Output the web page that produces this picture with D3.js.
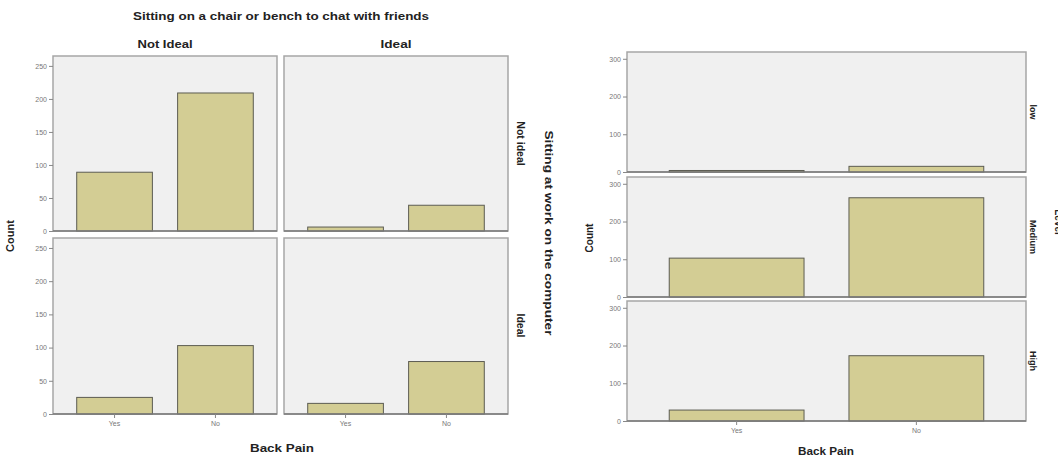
<!DOCTYPE html>
<html>
<head>
<meta charset="utf-8">
<script src="https://cdn.jsdelivr.net/npm/d3@7"></script>
<style>
	body { margin: 0; background: #fff; }
	svg { display: block; font-family: "Liberation Sans", Arial, sans-serif; }
	.tick text { fill: #777; font-size: 7px; }
	.tick line { stroke: #888; }
	.domain { display: none; }
	.lbl { font-weight: bold; fill: #222; }
</style>
</head>
<body>
<script>
// left chart: back pain counts by chat-seat (columns) and work-seat (rows)
const backPain = ['Yes', 'No']
const chatLevels = ['Not Ideal', 'Ideal']
const workLevels = ['Not ideal', 'Ideal']
const workNotIdealChatNotIdeal = [89, 209]
const workNotIdealChatIdeal = [6, 39]
const workIdealChatNotIdeal = [25, 103]
const workIdealChatIdeal = [16, 79]
const leftTicks = [0, 50, 100, 150, 200, 250]

// right chart: back pain counts by level
const levels = ['low', 'Medium', 'High']
const lowCounts = [4, 15]
const mediumCounts = [103, 263]
const highCounts = [29, 173]
const rightTicks = [0, 100, 200, 300]

let svg = d3.select('body').append('svg')
	.attr('width', 1058)
	.attr('height', 458)

function panel(x0, y0, w, h, counts, ymax, ticks, showX, showY) {
	let x = d3.scaleBand().domain(backPain).range([x0, x0 + w])
		.paddingInner(0.25).paddingOuter(0.235)
	let y = d3.scaleLinear().domain([0, ymax]).range([y0 + h, y0])

	svg.append('rect')
		.attr('x', x0).attr('y', y0)
		.attr('width', w).attr('height', h)
		.attr('fill', '#f0f0f0')
		.attr('stroke', '#a6a6a6')
		.attr('stroke-width', 1.5)

	svg.append('g').selectAll('rect')
		.data(counts)
		.join('rect')
		.attr('x', (d, i) => x(backPain[i]))
		.attr('y', d => y(d))
		.attr('width', x.bandwidth())
		.attr('height', d => y(0) - y(d))
		.attr('fill', '#d3cd94')
		.attr('stroke', '#5c5c52')
		.attr('stroke-width', 1)

	// baseline
	svg.append('line')
		.attr('x1', x0).attr('x2', x0 + w)
		.attr('y1', y(0)).attr('y2', y(0))
		.attr('stroke', '#7a7a7a')
		.attr('stroke-width', 1.5)

	if (showY) {
		svg.append('g')
			.attr('transform', 'translate(' + x0 + ',0)')
			.call(d3.axisLeft(y).tickValues(ticks).tickSize(4).tickPadding(2))
	}

	if (showX) {
		svg.append('g')
			.attr('transform', 'translate(0,' + (y0 + h) + ')')
			.call(d3.axisBottom(x).tickSize(4).tickPadding(3))
	}
}

function label(text, x, y, size, rotate, len) {
	let t = svg.append('text')
		.attr('class', 'lbl')
		.attr('transform', 'translate(' + x + ',' + y + ')' + (rotate ? ' rotate(' + rotate + ')' : ''))
		.attr('text-anchor', 'middle')
		.attr('font-size', size)
		.text(text)
	if (len) t.attr('textLength', len).attr('lengthAdjust', 'spacingAndGlyphs')
}

// left chart
let leftCols = [53, 284]
let leftRows = [56, 238]
let leftW = 224, leftH = 175
let leftData = [
	[workNotIdealChatNotIdeal, workNotIdealChatIdeal],
	[workIdealChatNotIdeal, workIdealChatIdeal]
]
leftRows.forEach((ry, r) => {
	leftCols.forEach((cx, c) => {
		panel(cx, ry, leftW, leftH + (r == 1 ? 1 : 0), leftData[r][c], 265, leftTicks, r == 1, c == 0)
	})
})

label('Sitting on a chair or bench to chat with friends', 281, 20, 11, 0, 296)
chatLevels.forEach((t, c) => label(t, leftCols[c] + leftW / 2, 48, 11.5, 0, c == 0 ? 55 : 31))
workLevels.forEach((t, r) => label(t, 517, leftRows[r] + leftH / 2, 10.5, 90))
label('Sitting at work on the computer', 545, 233, 11, 90, 205)
label('Count', 14, 236, 11, -90)
label('Back Pain', 282, 452, 11.5, 0, 64)

// right chart
let rightX = 627, rightW = 399, rightH = 120
let rightRows = [52, 177, 301]
let rightData = [lowCounts, mediumCounts, highCounts]
rightRows.forEach((ry, r) => {
	panel(rightX, ry, rightW, rightH, rightData[r], 318, rightTicks, r == 2, true)
})
levels.forEach((t, r) => label(t, 1030, rightRows[r] + rightH / 2, 9, 90))
label('Level', 1055, 222, 10, 90)
label('Count', 593, 238, 10, -90)
label('Back Pain', 826, 455, 10.5, 0, 56)
</script>
</body>
</html>
